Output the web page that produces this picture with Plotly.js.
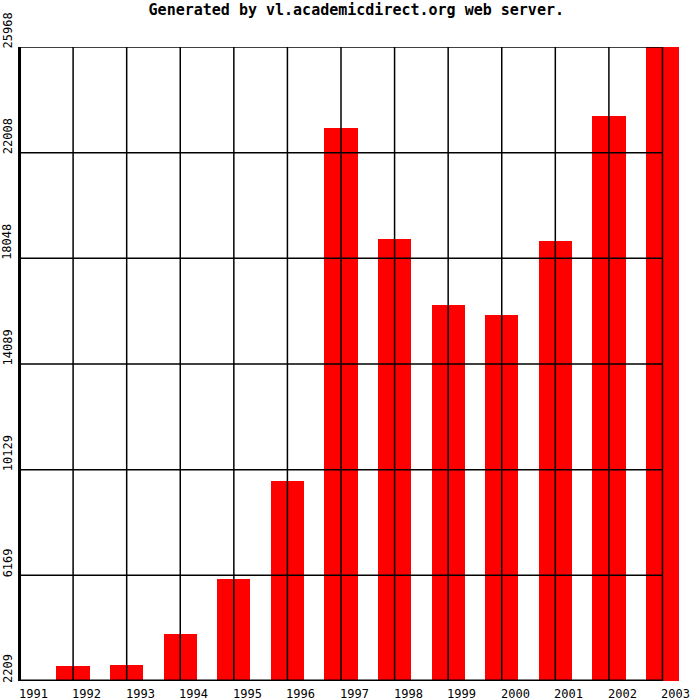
<!DOCTYPE html>
<html>
<head>
<meta charset="utf-8">
<script src="https://cdn.plot.ly/plotly-3.0.1.min.js"></script>
<style>html,body{margin:0;padding:0;background:#fff;}#chart{width:700px;height:700px;}</style>
</head>
<body>
<div id="chart"></div>
<script>
const titleText = "Generated by vl.academicdirect.org web server.";
const years = [1991, 1992, 1993, 1994, 1995, 1996, 1997, 1998, 1999, 2000, 2001, 2002, 2003];
const values = [2209, 2771, 2809, 3970, 6031, 9704, 22932, 18772, 16299, 15924, 18698, 23382, 25968];
const yTicks = [2209, 6169, 10129, 14089, 18048, 22008, 25968];
const yTickLabels = ["2209", "6169", "10129", "14089", "18048", "22008", "25968"];
const xTickLabels = years.map(String);

const FONT = "DejaVu Sans Mono, Liberation Mono, monospace";
const xMin = years[0], xMax = years[years.length - 1];
const yMin = yTicks[0], yMax = yTicks[yTicks.length - 1];

const shapes = [];
// vertical grid lines
years.forEach(function (yr, i) {
  if (i === 0) return;
  shapes.push({type: 'line', xref: 'x', yref: 'y', x0: yr, x1: yr, y0: yMin, y1: yMax,
    line: {color: '#000', width: 1.5}, layer: 'above'});
});
// horizontal grid lines (including top frame)
yTicks.forEach(function (t, i) {
  if (i === 0) return;
  shapes.push({type: 'line', xref: 'x', yref: 'y', x0: xMin, x1: xMax, y0: t, y1: t,
    line: {color: '#000', width: 1.5}, layer: 'above'});
});
// thick axes
shapes.push({type: 'line', xref: 'x', yref: 'y', x0: xMin, x1: xMin, y0: yMin, y1: yMax,
  line: {color: '#000', width: 3}, layer: 'above'});
shapes.push({type: 'line', xref: 'x', yref: 'y', x0: xMin, x1: xMax, y0: yMin, y1: yMin,
  line: {color: '#000', width: 3}, layer: 'above'});

const annotations = [];
years.forEach(function (yr, i) {
  annotations.push({xref: 'x', yref: 'y', x: yr, y: yMin, text: xTickLabels[i],
    showarrow: false, xanchor: 'left', yanchor: 'top', xshift: -3, yshift: -4,
    font: {family: FONT, size: 12, color: '#000'}});
});
yTicks.forEach(function (t, i) {
  annotations.push({xref: 'x', yref: 'y', x: xMin, y: t, text: yTickLabels[i],
    showarrow: false, textangle: -90, xanchor: 'center', yanchor: 'bottom', xshift: -12, yshift: -4,
    font: {family: FONT, size: 12, color: '#000'}});
});

const trace = {
  type: 'bar', x: years, y: values, width: 0.62,
  marker: {color: '#ff0000', line: {width: 0}},
  hoverinfo: 'skip'
};

const layout = {
  width: 700, height: 700,
  paper_bgcolor: '#fff', plot_bgcolor: '#fff',
  margin: {l: 2, r: 20, t: 47, b: 19, pad: 0},
  title: {text: titleText, x: 0.509, xref: 'container', xanchor: 'center',
    y: 0.986, yref: 'container', yanchor: 'middle',
    font: {family: FONT, size: 15, color: '#000', weight: 'bold'}},
  xaxis: {range: [1990.673, 2003.327], showgrid: false, zeroline: false, showline: false,
    showticklabels: false, ticks: '', fixedrange: true},
  yaxis: {range: [yMin, yMax], showgrid: false, zeroline: false, showline: false,
    showticklabels: false, ticks: '', fixedrange: true},
  shapes: shapes,
  annotations: annotations,
  showlegend: false,
  bargap: 0
};

Plotly.newPlot('chart', [trace], layout, {displayModeBar: false, staticPlot: true});
</script>
</body>
</html>
